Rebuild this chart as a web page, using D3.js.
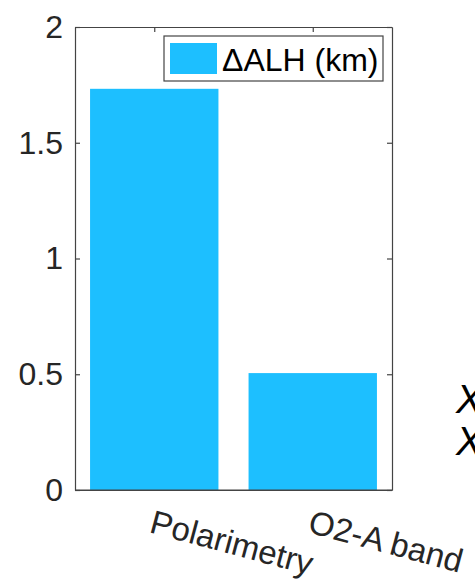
<!DOCTYPE html>
<html>
<head>
<meta charset="utf-8">
<script src="https://cdn.jsdelivr.net/npm/d3@7"></script>
<style>
  body { margin: 0; background: #fff; }
  svg { display: block; font-family: "Liberation Sans", Arial, sans-serif; }
  .axis path, .axis line { stroke: #444; stroke-width: 1.2; }
  .axis text { fill: #262626; font-size: 32px; }
</style>
</head>
<body>
<div id="chart"></div>
<script>
// values
var categories = ["Polarimetry", "O2-A band"];
var deltaALH = [1.733, 0.505];
var yTicks = [0, 0.5, 1, 1.5, 2];
var legendLabel = "\u0394ALH (km)";

(function () {
    var width = 475,
        height = 581,
        axLeft = 75, axRight = 392, axTop = 27, axBottom = 490,
        barColor = "#1dbfff";

    var svg = d3.select("#chart")
        .append("svg")
        .attr("width", width)
        .attr("height", height);

    var x = d3.scaleLinear().domain([0.5, categories.length + 0.5]).range([axLeft, axRight]),
        y = d3.scaleLinear().domain([0, 2]).range([axBottom, axTop]),
        barW = (x(2) - x(1)) * 0.81;

    var catTicks = categories.map(function (d, i) { return i + 1; });

    // bottom ticks sit under the bars
    svg.append("g").attr("class", "axis")
        .attr("transform", "translate(0," + axBottom + ")")
        .call(d3.axisBottom(x).tickValues(catTicks).tickSizeInner(-5).tickSizeOuter(0).tickFormat(""));

    svg.selectAll("rect.bar")
        .data(deltaALH)
        .enter()
        .append("rect")
        .attr("class", "bar")
        .attr("x", function (d, i) { return x(i + 1) - barW / 2; })
        .attr("y", function (d) { return y(d); })
        .attr("width", barW)
        .attr("height", function (d) { return y(0) - y(d); })
        .style("fill", barColor);

    svg.append("line")
        .attr("x1", axLeft).attr("x2", axRight)
        .attr("y1", axBottom).attr("y2", axBottom)
        .style("stroke", "#444").style("stroke-width", 1.2);

    // box with inward ticks, matlab style
    svg.append("g").attr("class", "axis")
        .attr("transform", "translate(" + axLeft + ",0)")
        .call(d3.axisLeft(y).tickValues(yTicks).tickSizeInner(-5).tickSizeOuter(0).tickPadding(12)
            .tickFormat(d3.format("")));

    svg.append("g").attr("class", "axis")
        .attr("transform", "translate(" + axRight + ",0)")
        .call(d3.axisRight(y).tickValues(yTicks).tickSizeInner(-5).tickSizeOuter(0).tickFormat(""));

    svg.append("g").attr("class", "axis")
        .attr("transform", "translate(0," + axTop + ")")
        .call(d3.axisTop(x).tickValues(catTicks).tickSizeInner(-5).tickSizeOuter(0).tickFormat(""));

    svg.selectAll("text.xlab")
        .data(categories)
        .enter()
        .append("text")
        .attr("class", "xlab")
        .attr("transform", function (d, i) {
            return "translate(" + (x(i + 1) - 6) + "," + (axBottom + 42) + ") rotate(15)";
        })
        .style("font-size", "33px")
        .style("fill", "#262626")
        .text(function (d) { return d; });

    // legend
    var leg = svg.append("g").attr("transform", "translate(164,36)");
    leg.append("rect")
        .attr("width", 219).attr("height", 45)
        .style("fill", "#fff").style("stroke", "#444").style("stroke-width", 1.2);
    leg.append("rect")
        .attr("x", 6).attr("y", 7).attr("width", 47).attr("height", 31)
        .style("fill", barColor);
    leg.append("text")
        .attr("x", 58).attr("y", 35)
        .style("font-size", "32px")
        .style("fill", "#000")
        .text(legendLabel);

    // clipped text from neighbouring panel
    svg.selectAll("text.edge")
        .data(["X", "X"])
        .enter()
        .append("text")
        .attr("class", "edge")
        .attr("x", 456)
        .attr("y", function (d, i) { return 413 + i * 42; })
        .style("font-size", "40px")
        .style("font-style", "italic")
        .style("fill", "#000")
        .text(function (d) { return d; });
})();
</script>
</body>
</html>
